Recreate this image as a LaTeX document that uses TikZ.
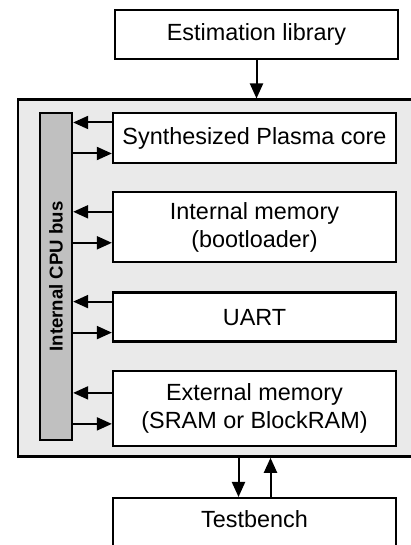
\documentclass[tikz,border=0pt]{standalone}
\usepackage{fontspec}
\setmainfont{Liberation Sans}
\usetikzlibrary{arrows.meta,positioning}
\definecolor{chipfill}{HTML}{EAEAEA}
\definecolor{busfill}{HTML}{C0C0C0}
\tikzset{box/.style={draw=black,fill=white,line width=2.3pt,align=center,font=\fontsize{23.4}{28}\selectfont,minimum width=283pt,inner sep=0pt},chip/.style={draw=black,fill=chipfill,line width=2.3pt,inner sep=0pt},bus/.style={draw=black,fill=busfill,line width=2.3pt,inner sep=0pt,font=\fontsize{18.6}{22}\selectfont\bfseries},arr/.style={-{Triangle[length=15pt,width=13pt]},line width=2pt}}

\begin{document}
\begin{tikzpicture}[x=1pt,y=1pt]
\useasboundingbox (0,0) rectangle (411,545);
\node[box,minimum height=49pt] (est) at (256.5,510.5) {Estimation library};
\node[chip,minimum width=413pt,minimum height=357pt,anchor=north west] (fpga) at (17,446.5) {};
\node[bus,rotate=90,minimum width=327pt,minimum height=32pt] (bus) at (56,268.5) {Internal CPU bus};
\node[box,minimum height=50pt] (core) at (254.5,407) {Synthesized Plasma core};
\node[box,minimum height=70pt,below=27pt of core] (imem) {Internal memory\\(bootloader)};
\node[box,minimum height=49pt,below=28pt of imem] (uart) {UART};
\node[box,minimum height=75pt,below=27pt of uart] (emem) {External memory\\(SRAM or BlockRAM)};
\node[box,anchor=north,text height=17pt,text depth=40pt,inner ysep=12pt] (tb) at (254.5,48) {Testbench};
\draw[arr] (est.south) -- (est.south |- fpga.north);
\foreach \n in {core,imem,uart,emem}{
  \coordinate (\n in) at ([yshift=15.5pt]\n.west);
  \coordinate (\n out) at ([yshift=-15.5pt]\n.west);
  \draw[arr] (\n in) -- (\n in -| bus.south);
  \draw[arr] (\n out -| bus.south) -- (\n out);
}
\coordinate (tbin) at ([xshift=-16pt]tb.north);
\coordinate (tbout) at ([xshift=16pt]tb.north);
\draw[arr] (tbin |- fpga.south) -- (tbin);
\draw[arr] (tbout) -- (tbout |- fpga.south);
\end{tikzpicture}
\end{document}
